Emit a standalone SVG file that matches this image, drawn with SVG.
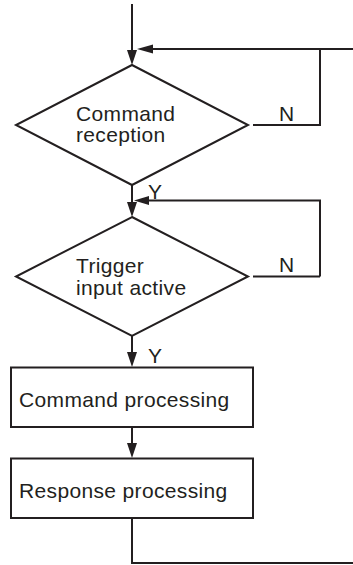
<svg xmlns="http://www.w3.org/2000/svg" width="353" height="565" viewBox="0 0 353 565">
<style>
.ln{fill:none;stroke:#231f20;stroke-width:2;stroke-linecap:butt;stroke-linejoin:miter}
.shp{fill:#fff;stroke:#231f20;stroke-width:2}
.ah{fill:#231f20}
text{font-family:"Liberation Sans",Arial,sans-serif;font-size:21px;letter-spacing:0.35px;fill:#231f20}
</style>
<rect width="353" height="565" fill="#fff"/>
<g id="connectors">
  <path class="ln" d="M132,4 V52"/>
  <polygon class="ah" points="127,50 137,50 132,65"/>
  <path class="ln" d="M353,49 H150"/>
  <polygon class="ah" points="153,44.5 153,53.5 137,49"/>
  <path class="ln" d="M253,125 H320 V49"/>
  <text x="279" y="121">N</text>
  <path class="ln" d="M132,185 V204"/>
  <polygon class="ah" points="127,202 137,202 132,217"/>
  <path class="ln" d="M320,276.5 V200.5 H146"/>
  <polygon class="ah" points="149,196 149,205 134,200.5"/>
  <path class="ln" d="M253,276.5 H320"/>
  <text x="148" y="199">Y</text>
  <text x="279" y="272">N</text>
  <path class="ln" d="M132,336 V354"/>
  <polygon class="ah" points="127,352 137,352 132,367"/>
  <text x="148" y="363">Y</text>
  <path class="ln" d="M132,427 V445"/>
  <polygon class="ah" points="127,443 137,443 132,458"/>
  <path class="ln" d="M132,518 V563 H353"/>
</g>
<g id="cmd-reception">
  <polygon class="shp" points="132,65 248,125 132,185 16,125"/>
  <text x="76" y="121">Command</text>
  <text x="76" y="142">reception</text>
</g>
<g id="trigger-active">
  <polygon class="shp" points="132,217 248,276.5 132,336 16,276.5"/>
  <text x="76" y="273">Trigger</text>
  <text x="76" y="295">input active</text>
</g>
<g id="cmd-processing">
  <rect class="shp" x="11" y="367.5" width="242" height="59.5"/>
  <text x="19" y="407">Command processing</text>
</g>
<g id="resp-processing">
  <rect class="shp" x="11" y="458.5" width="242" height="59.5"/>
  <text x="19" y="498">Response processing</text>
</g>
</svg>
